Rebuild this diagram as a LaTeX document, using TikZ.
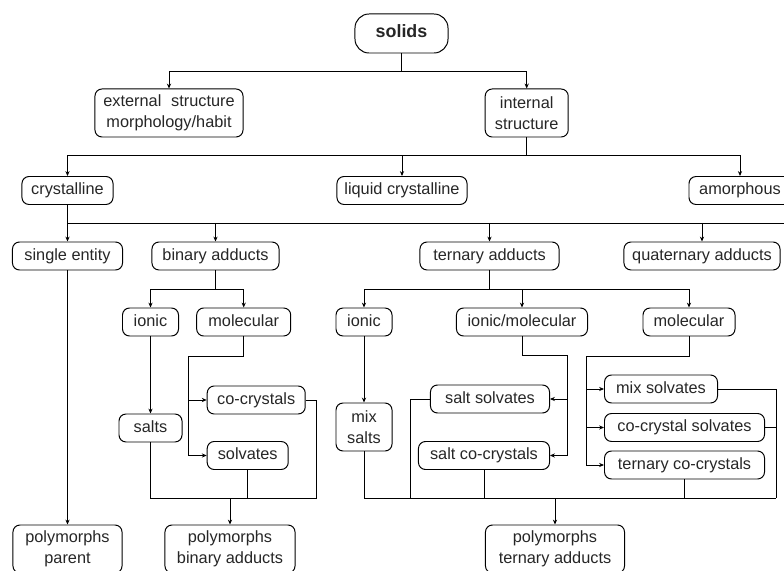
\documentclass[tikz,border=0pt]{standalone}
\usepackage{fontspec}
\setmainfont{Liberation Sans}
\usetikzlibrary{arrows.meta}

\begin{document}
\begin{tikzpicture}[x=0.025cm,y=-0.025cm,
    boxbase/.style={rectangle,rounded corners=5pt,draw,line width=0.7pt,
                    inner sep=1pt,align=center,text=black!85,
                    font=\fontsize{11.6}{14.9}\selectfont},
    box/.style={boxbase,minimum height=0.7cm,text height=8.4pt,text depth=2.4pt},
    tall/.style={boxbase,minimum height=1.2cm},
    link/.style={line width=0.65pt},
    arr/.style={link,-{Stealth[length=3.5pt,width=3pt]}}]
      \useasboundingbox (0,0) rectangle (784,571);
      \clip (0,0) rectangle (784,571);
      % upper levels
      \node[box,minimum width=2.325cm,minimum height=0.975cm,rounded corners=10pt,
            font=\fontsize{12.7}{15}\selectfont\bfseries]
            (l0)at(401.5,33.5){solids};
      \node[tall,minimum width=3.7cm]  (l1a)at(169,113)  {external\hspace{0.6em}structure\\morphology/habit};
      \node[tall,minimum width=2.075cm](l1b)at(526.7,113){internal\\structure};
      \node[box,minimum width=2.275cm] (l2a)at(67.5,190.5){crystalline};
      \node[box,minimum width=3.25cm]  (l2b)at(402,190.5) {liquid crystalline};
      \node[box,minimum width=2.55cm]  (l2c)at(740,190.5) {amorphous};
      \node[box,minimum width=2.75cm]  (l3a)at(67.5,256)  {single entity};
      \node[box,minimum width=3.175cm] (l3b)at(215.5,256) {binary adducts};
      \node[box,minimum width=3.475cm] (l3c)at(489.5,256) {ternary adducts};
      \node[box,minimum width=3.9cm]   (l3d)at(702,256)   {quaternary adducts};
      % binary adducts
      \node[box,minimum width=1.4cm]   (b1)at(150.5,322)  {ionic};
      \node[box,minimum width=2.35cm]  (b2)at(243.7,322)  {molecular};
      \node[box,minimum width=1.575cm] (b3)at(150.5,428)  {salts};
      \node[box,minimum width=2.45cm,anchor=west] (b4)at(206.7,400)  {co-crystals};
      \node[box,minimum width=2.025cm,anchor=west](b5)at(206.7,455.5){solvates};
      % ternary adducts
      \node[box,minimum width=1.4cm]   (t1)at(364,322)    {ionic};
      \node[box,minimum width=3.275cm] (t2)at(522,322)    {ionic/molecular};
      \node[box,minimum width=2.3cm]   (t3)at(689,322)    {molecular};
      \node[tall,minimum width=1.4cm]  (t4)at(364,427)    {mix\\salts};
      \node[box,minimum width=2.975cm,anchor=east](t5)at(550,399)  {salt solvates};
      \node[box,minimum width=3.275cm,anchor=east](t6)at(550,455.5){salt co-crystals};
      \node[box,minimum width=2.825cm,anchor=west](t7)at(604,389)  {mix solvates};
      \node[box,minimum width=4cm,anchor=west]    (t8)at(604,427.5){co-crystal solvates};
      \node[box,minimum width=4cm,anchor=west]    (t9)at(604,465)  {ternary co-crystals};
      % polymorphs
      \node[tall,minimum width=2.725cm](p1)at(67.5,549) {polymorphs\\parent};
      \node[tall,minimum width=3.25cm] (p2)at(230,549)  {polymorphs\\binary adducts};
      \node[tall,minimum width=3.475cm](p3)at(555,549)  {polymorphs\\ternary adducts};
      % junctions
      \coordinate (j0) at (401.5,71);
      \coordinate (j1) at (526.7,155);
      \coordinate (j2) at (67.5,223);
      \coordinate (j2e)at (790,223);
      \coordinate (j3) at (215.5,289);
      \coordinate (j4) at (188.3,356);
      \coordinate (j5) at (230,498);
      \coordinate (j6) at (316.7,498);
      \coordinate (j7) at (489.5,289);
      \coordinate (j8) at (567.7,355);
      \coordinate (j9) at (586.7,356);
      \coordinate (j10)at (555,498);
      \coordinate (j11)at (776,498);
      \coordinate (j12)at (410,498);
      % connectors
      \draw[link](l0)--(j0);
      \draw[arr](j0)-|(l1a);
      \draw[arr](j0)-|(l1b);
      \draw[link](l1b)--(j1);
      \draw[arr](j1)-|(l2a);
      \draw[arr](j1)-|(l2b);
      \draw[arr](j1)-|(l2c);
      \draw[link](l2a)--(j2)--(j2e);
      \draw[arr](j2)--(l3a);
      \draw[arr](l3b|-j2)--(l3b);
      \draw[arr](l3c|-j2)--(l3c);
      \draw[arr](l3d|-j2)--(l3d);
      \draw[arr](l3a)--(p1);
      \draw[link](l3b)--(j3);
      \draw[arr](j3)-|(b1);
      \draw[arr](j3)-|(b2);
      \draw[arr](b1)--(b3);
      \draw[link](b2)|-(j4);
      \draw[arr](j4|-b4)--(b4);
      \draw[arr](j4)|-(b5);
      \draw[link](b3)|-(j6);
      \draw[link](b4)-|(j6);
      \draw[link](b5)--(b5|-j6);
      \draw[arr](j5)--(p2);
      \draw[link](l3c)--(j7);
      \draw[arr](j7)-|(t1);
      \draw[arr](j7)-|(t2);
      \draw[arr](j7)-|(t3);
      \draw[arr](t1)--(t4);
      \draw[link](t2)|-(j8);
      \draw[arr](j8|-t5)--(t5);
      \draw[arr](j8)|-(t6);
      \draw[link](t3)|-(j9);
      \draw[arr](j9|-t7)--(t7);
      \draw[arr](j9|-t8)--(t8);
      \draw[arr](j9)|-(t9);
      \draw[link](t4)|-(j11);
      \draw[link](t5)-|(j12);
      \draw[link](t6)--(t6|-j11);
      \draw[link](t7)-|(j11);
      \draw[link](t8)--(t8-|j11);
      \draw[link](t9)--(t9|-j11);
      \draw[arr](j10)--(p3);
    \end{tikzpicture}
\end{document}
